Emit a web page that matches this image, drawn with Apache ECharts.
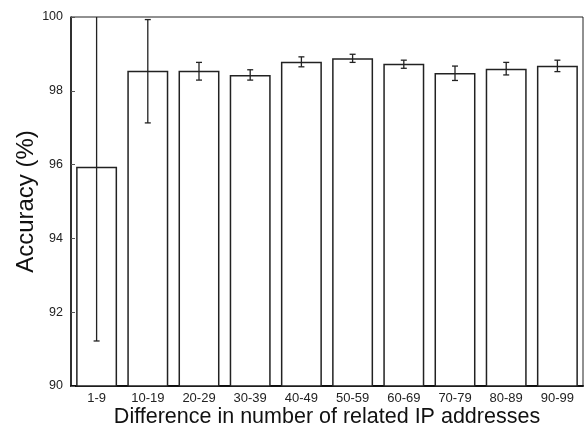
<!DOCTYPE html>
<html>
<head>
<meta charset="utf-8">
<script src="https://cdn.jsdelivr.net/npm/echarts@6/dist/echarts.min.js"></script>
<style>
  html, body { margin: 0; padding: 0; background: #fff; }
  #chart { width: 586px; height: 425px; }
</style>
</head>
<body>
<div id="chart"></div>
<script>
let categories = ['1-9', '10-19', '20-29', '30-39', '40-49', '50-59', '60-69', '70-79', '80-89', '90-99'];
let accuracy = [95.94, 98.54, 98.54, 98.43, 98.79, 98.88, 98.73, 98.48, 98.60, 98.68];
let errLow = [91.22, 97.13, 98.29, 98.29, 98.65, 98.77, 98.61, 98.28, 98.43, 98.52];
let errHigh = [100.66, 99.93, 98.77, 98.57, 98.92, 98.99, 98.83, 98.67, 98.77, 98.83];
let yTicks = [90, 92, 94, 96, 98, 100];

let errData = categories.map(function (c, i) { return [i, errLow[i], errHigh[i]]; });
let font = 'Liberation Sans, Arial, sans-serif';

let myChart = echarts.init(document.getElementById('chart'));
let option = {
  animation: false,
  grid: {
    left: 71, right: 3, top: 17, bottom: 39,
    outerBoundsMode: 'none',
    show: true, borderColor: '#222', borderWidth: 1
  },
  xAxis: {
    type: 'category',
    data: categories,
    name: 'Difference in number of related IP addresses',
    nameLocation: 'middle',
    nameMoveOverlap: false,
    nameGap: 20,
    nameTextStyle: { fontFamily: font, fontSize: 21.5, color: '#111' },
    axisLine: { lineStyle: { color: '#111', width: 2 } },
    axisTick: { inside: true, alignWithLabel: true, length: 4, lineStyle: { color: '#555' } },
    axisLabel: { fontFamily: font, fontSize: 13, color: '#222', margin: 6 }
  },
  yAxis: {
    type: 'value',
    min: yTicks[0],
    max: yTicks[yTicks.length - 1],
    interval: 2,
    name: 'Accuracy (%)',
    nameLocation: 'middle',
    nameMoveOverlap: false,
    nameGap: 33,
    nameTextStyle: { fontFamily: font, fontSize: 24, color: '#111' },
    axisLine: { show: true, lineStyle: { color: '#111', width: 1.5 } },
    axisTick: { show: true, inside: true, length: 4, lineStyle: { color: '#555' } },
    splitLine: { show: false },
    axisLabel: { fontFamily: font, fontSize: 12.5, color: '#222', margin: 8 }
  },
  series: [
    {
      type: 'bar',
      data: accuracy,
      barWidth: '80%',
      itemStyle: { color: '#fff', borderColor: '#222', borderWidth: 1.5 }
    },
    {
      type: 'custom',
      data: errData,
      clip: true,
      z: 5,
      renderItem: function (params, api) {
        let x = api.coord([api.value(0), api.value(1)])[0];
        let lo = api.coord([api.value(0), api.value(1)])[1];
        let hi = api.coord([api.value(0), api.value(2)])[1];
        let cap = 3;
        let style = { stroke: '#222', lineWidth: 1.3 };
        return {
          type: 'group',
          children: [
            { type: 'line', shape: { x1: x, y1: hi, x2: x, y2: lo }, style: style },
            { type: 'line', shape: { x1: x - cap, y1: hi, x2: x + cap, y2: hi }, style: style },
            { type: 'line', shape: { x1: x - cap, y1: lo, x2: x + cap, y2: lo }, style: style }
          ]
        };
      }
    }
  ]
};
myChart.setOption(option);
window.addEventListener('resize', function () { myChart.resize(); }, false);
</script>
</body>
</html>
